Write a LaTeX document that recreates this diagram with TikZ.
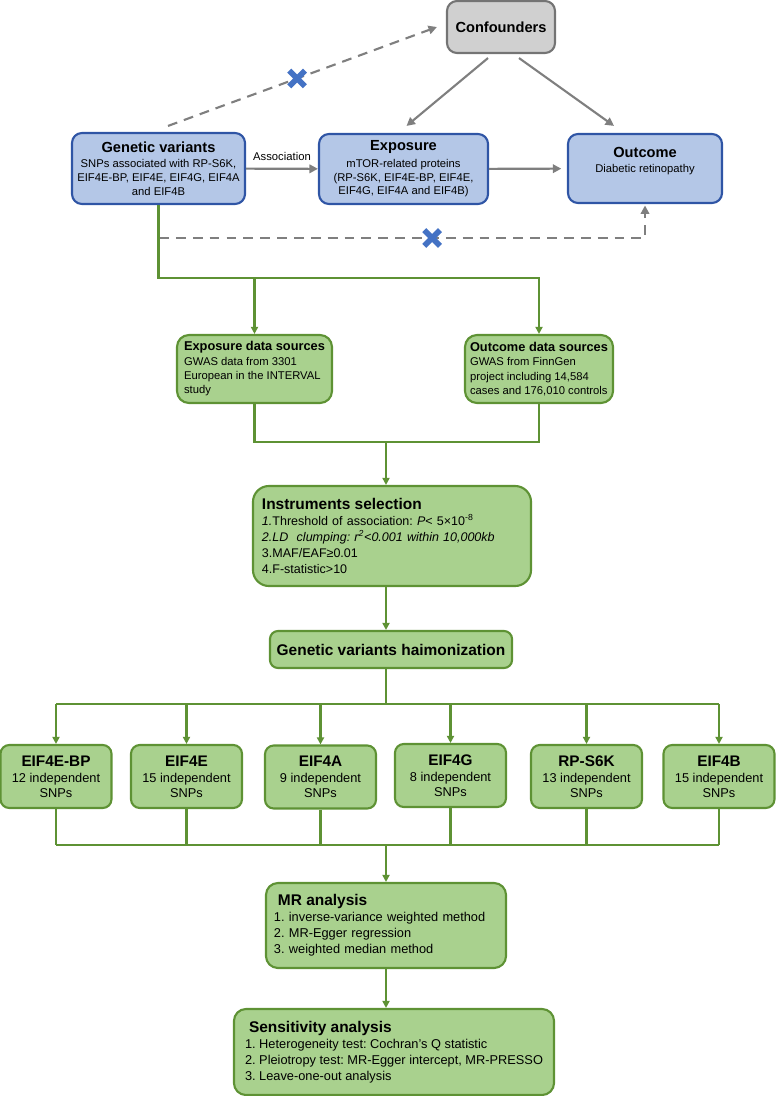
\documentclass[tikz,border=0pt]{standalone}
\usepackage{fontspec}
\setmainfont{Liberation Sans}
\usetikzlibrary{arrows.meta,calc}

\definecolor{boxblue}{HTML}{B4C7E7}
\definecolor{edgeblue}{HTML}{2F55A5}
\definecolor{boxgray}{HTML}{D0D0D0}
\definecolor{edgegray}{HTML}{747474}
\definecolor{boxgreen}{HTML}{A9D18E}
\definecolor{edgegreen}{HTML}{5E9234}
\definecolor{linegray}{HTML}{7F7F7F}
\definecolor{crossblue}{HTML}{4472C4}

\newcommand{\hdtop}{\fontsize{10.4}{12.5}\selectfont\bfseries}
\newcommand{\hdsrc}{\fontsize{9.1}{11}\selectfont\bfseries}
\newcommand{\hdbig}{\fontsize{11}{13}\selectfont\bfseries}
\newcommand{\hdsnp}{\fontsize{10.9}{13}\selectfont\bfseries}

\begin{document}
\frenchspacing
\begin{tikzpicture}[x=0.025cm, y=-0.025cm,
        bluebox/.style={draw=edgeblue, fill=boxblue, line width=1.5pt, rounded corners=0.25cm,
                        align=center, font=\fontsize{8}{9.8}\selectfont},
        graybox/.style={draw=edgegray, fill=boxgray, line width=1.5pt, rounded corners=0.25cm,
                        align=center, font=\hdtop},
        greenbox/.style={draw=edgegreen, fill=boxgreen, line width=1.5pt, rounded corners=0.3cm},
        srcbox/.style={greenbox, align=left, minimum width=3.8cm, minimum height=1.7cm,
                       font=\fontsize{8}{10.2}\selectfont},
        snpbox/.style={greenbox, rounded corners=0.22cm, align=center, minimum width=2.775cm,
                       minimum height=1.575cm, font=\fontsize{9.1}{10.4}\selectfont},
        grayarr/.style={draw=linegray, line width=1.5pt, -{Triangle[length=6pt,width=6pt]}},
        graydash/.style={grayarr, dash pattern=on 7pt off 5pt},
        greenline/.style={draw=edgegreen, line width=1.5pt},
        greenarr/.style={greenline, -{Triangle[length=5pt,width=5pt]}},
        xmark/.style={minimum size=0.34cm, inner sep=0pt},
        xline/.style={draw=crossblue, line width=4pt}
    ]
        \useasboundingbox (0,0) rectangle (775,1096);

        \node[graybox, minimum width=2.7cm, minimum height=1.3cm] (conf) at (501,27) {Confounders};
        \node[bluebox, minimum width=4.325cm, minimum height=1.775cm] (gv) at (158.5,168.5)
            {{\hdtop Genetic variants}\\[1pt]SNPs associated with RP-S6K,\\EIF4E-BP, EIF4E, EIF4G, EIF4A\\and EIF4B};
        \node[bluebox, minimum width=4.225cm, minimum height=1.75cm] (exp) at (403.5,169)
            {{\hdtop Exposure}\\[2pt]mTOR-related proteins\\(RP-S6K, EIF4E-BP, EIF4E,\\EIF4G, EIF4A and EIF4B)};
        \node[bluebox, minimum width=3.85cm, minimum height=1.725cm] (out) at (645,168.5)
            {{\hdtop Outcome}\\[1pt]Diabetic retinopathy\\[0.1cm]};

        \node[srcbox, minimum width=3.875cm] (eds) at (254.5,369)
            {{\hdsrc Exposure data sources}\\GWAS data from 3301\\European in the INTERVAL\\study};
        \node[srcbox, minimum width=3.7cm] (ods) at (539,369)
            {{\hdsrc Outcome data sources}\\GWAS from FinnGen\\project including 14,584\\cases and 176,010 controls};

        \node[greenbox, rounded corners=0.4cm, align=left, text width=6.5cm, inner xsep=0.225cm,
              minimum height=2.5cm, font=\fontsize{8.9}{11.4}\selectfont] (ins) at (392,536)
            {{\hdbig Instruments selection}\\
             \textit{1.}Threshold of association: \textit{P}< 5×10\textsuperscript{-8}\\
             \textit{2.LD\ \ clumping: r\textsuperscript{2}<0.001 within 10,000kb}\\
             3.MAF/EAF≥0.01\\
             4.F-statistic>10};
        \node[greenbox, rounded corners=0.2cm, minimum width=6.05cm, minimum height=0.925cm,
              font=\hdbig] (gvh) at (391,649.5) {Genetic variants haimonization};

        \node[snpbox] (bp) at (56,776.5)    {{\hdsnp EIF4E-BP}\\[1pt]12 independent\\SNPs};
        \node[snpbox] (ee) at (186.5,776.5) {{\hdsnp EIF4E}\\[1pt]15 independent\\SNPs};
        \node[snpbox] (ea) at (320.5,777)   {{\hdsnp EIF4A}\\[1pt]9 independent\\SNPs};
        \node[snpbox] (eg) at (450.5,775.5) {{\hdsnp EIF4G}\\[1pt]8 independent\\SNPs};
        \node[snpbox] (rp) at (586.5,776.5) {{\hdsnp RP-S6K}\\[1pt]13 independent\\SNPs};
        \node[snpbox] (eb) at (719,776.5)   {{\hdsnp EIF4B}\\[1pt]15 independent\\SNPs};

        \node[greenbox, align=left, text width=5.6cm, inner xsep=0.2cm, minimum height=2.125cm,
              font=\fontsize{9.1}{11.4}\selectfont] (mr) at (386,925.5)
            {\hspace*{0.1cm}{\hdbig MR analysis}\\
             1. inverse-variance weighted method\\
             2. MR-Egger regression\\
             3. weighted median method};
        \node[greenbox, align=left, minimum width=8cm, minimum height=2.15cm,
              font=\fontsize{9.1}{11.4}\selectfont] (sens) at (394,1052)
            {\hspace*{0.1cm}{\hdbig Sensitivity analysis}\\
             1. Heterogeneity test: Cochran’s Q statistic\\
             2. Pleiotropy test: MR-Egger intercept, MR-PRESSO\\
             3. Leave-one-out analysis};

        \coordinate (trunk) at (386,0);
        \coordinate (dstart) at (159,238);
        \coordinate (bus1) at (0,278);
        \coordinate (bus2) at (0,442);
        \coordinate (bus3) at (0,704);
        \coordinate (bus4) at (0,845);

        \draw[grayarr] (gv) -- node[above=2pt, font=\fontsize{8}{9.6}\selectfont] (assoc) {Association} (exp);
        \draw[grayarr, shorten >=4pt] (exp) -- (out);
        \draw[grayarr] ($(conf.south)+(-13,4)$) -- ($(exp.north)+(3,-7)$);
        \draw[grayarr] ($(conf.south)+(18,4)$) -- ($(out.north)+(-31,-7)$);
        \draw[graydash] ($(gv.north)+(9.5,-6)$) -- node[pos=0.48, xmark] (xa) {} ($(conf.west)+(-9,0)$);
        \draw[graydash, shorten >=1pt] (dstart) -| node[pos=0.281, xmark] (xb) {} (out.south);
        \foreach \c in {xa,xb}
            \draw[xline] (\c.north west) -- (\c.south east) (\c.south west) -- (\c.north east);

        \draw[greenarr] (gv.south) |- (bus1 -| ods.north) -- (ods.north);
        \draw[greenarr] (bus1 -| eds.north) -- (eds.north);
        \draw[greenline] (eds.south) |- (bus2 -| ods.south) -- (ods.south);
        \draw[greenarr] (bus2 -| trunk) -- (ins.north -| trunk);
        \draw[greenarr] (ins.south -| trunk) -- (gvh.north -| trunk);
        \draw[greenline] (gvh.south -| trunk) -- (bus3 -| trunk);
        \draw[greenline] (bus3 -| bp.north) -- (bus3 -| eb.north);
        \foreach \n in {bp,ee,ea,eg,rp,eb} {
            \draw[greenarr] (bus3 -| \n.north) -- (\n.north);
            \draw[greenline] (\n.south) -- (bus4 -| \n.south);
        }
        \draw[greenline] (bus4 -| bp.south) -- (bus4 -| eb.south);
        \draw[greenarr] (bus4 -| trunk) -- (mr.north -| trunk);
        \draw[greenarr] (mr.south -| trunk) -- (sens.north -| trunk);
    \end{tikzpicture}
\end{document}
